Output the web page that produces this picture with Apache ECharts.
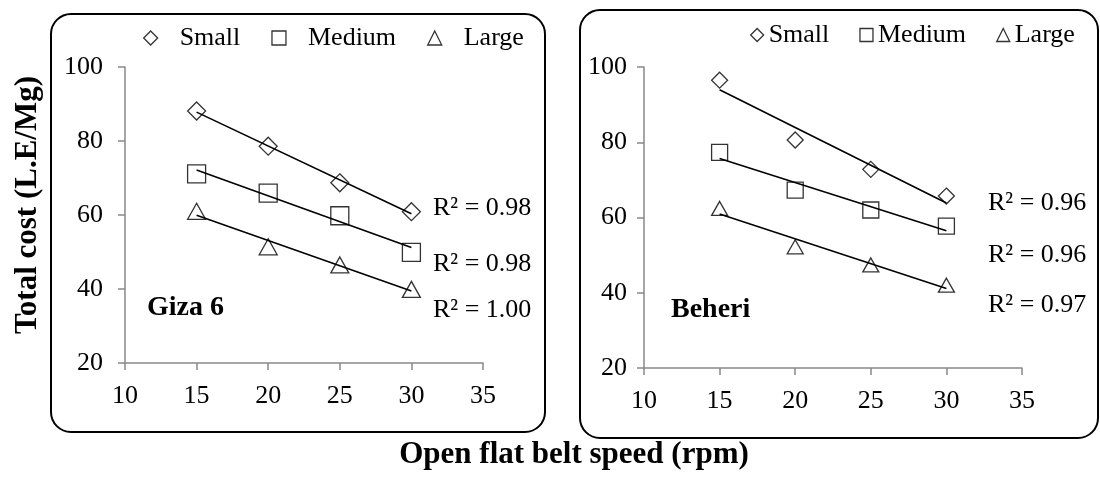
<!DOCTYPE html>
<html>
<head>
<meta charset="utf-8">
<script src="https://cdn.jsdelivr.net/npm/echarts@6/dist/echarts.min.js"></script>
<style>
html,body{margin:0;padding:0;background:#fff;}
#chart{width:1100px;height:481px;}
</style>
</head>
<body>
<div id="chart"></div>
<script>
// ---- data ----
var xValues = [15, 20, 25, 30];
var seriesNames = ['Small', 'Medium', 'Large'];
var gizaSmall = [88.1, 78.6, 68.7, 60.9];
var gizaMedium = [71.1, 65.9, 59.8, 49.9];
var gizaLarge = [61.0, 51.4, 46.5, 39.9];
var beheriSmall = [96.5, 80.6, 72.8, 65.7];
var beheriMedium = [77.3, 67.3, 62.0, 57.7];
var beheriLarge = [62.4, 52.2, 47.4, 42.0];
var gizaR2 = ['R\u00b2 = 0.98', 'R\u00b2 = 0.98', 'R\u00b2 = 1.00'];
var beheriR2 = ['R\u00b2 = 0.96', 'R\u00b2 = 0.96', 'R\u00b2 = 0.97'];
var panelLabels = ['Giza 6', 'Beheri'];
var yTitle = 'Total cost (L.E/Mg)';
var xTitle = 'Open flat belt speed (rpm)';

var FONT = 'Liberation Serif, Times New Roman, serif';
var symbols = ['diamond', 'rect', 'triangle'];

function fit(xs, ys) {
  var n = xs.length, mx = 0, my = 0;
  for (var i = 0; i < n; i++) { mx += xs[i]; my += ys[i]; }
  mx /= n; my /= n;
  var sxy = 0, sxx = 0;
  for (var j = 0; j < n; j++) { sxy += (xs[j] - mx) * (ys[j] - my); sxx += (xs[j] - mx) * (xs[j] - mx); }
  var b = sxy / sxx, a = my - b * mx;
  var x0 = xs[0], x1 = xs[n - 1];
  return [[x0, a + b * x0], [x1, a + b * x1]];
}
function pts(ys) { return xValues.map(function (x, i) { return [x, ys[i]]; }); }

var chart = echarts.init(document.getElementById('chart'), null, {renderer: 'canvas'});

var axisGrey = '#898989';
function xAxis(gi) {
  return {
    type: 'value', gridIndex: gi, min: 10, max: 35, interval: 5,
    axisLine: {onZero: false, lineStyle: {color: axisGrey, width: 1.5}},
    axisTick: {show: true, length: 7, lineStyle: {color: axisGrey, width: 1.5}},
    axisLabel: {color: '#000', fontFamily: FONT, fontSize: 26, margin: 20},
    splitLine: {show: false}
  };
}
function yAxis(gi, m) {
  return {
    type: 'value', gridIndex: gi, min: 20, max: 100, interval: 20,
    axisLine: {show: true, lineStyle: {color: axisGrey, width: 1.5}},
    axisTick: {show: true, length: 7, lineStyle: {color: axisGrey, width: 1.5}},
    axisLabel: {color: '#000', fontFamily: FONT, fontSize: 26, margin: m},
    splitLine: {show: false}
  };
}

var series = [];
var panels = [
  {data: [gizaSmall, gizaMedium, gizaLarge], size: 18},
  {data: [beheriSmall, beheriMedium, beheriLarge], size: 16}
];
panels.forEach(function (p, gi) {
  p.data.forEach(function (ys, k) {
    series.push({
      type: 'scatter', name: seriesNames[k], xAxisIndex: gi, yAxisIndex: gi,
      symbol: symbols[k],
      symbolSize: k === 2 ? [p.size, p.size - 2] : p.size,
      itemStyle: {color: '#fff', borderColor: '#000', borderWidth: 1.3},
      data: pts(ys), z: 2
    });
  });
  p.data.forEach(function (ys, k) {
    series.push({
      type: 'line', name: seriesNames[k] + ' trend', xAxisIndex: gi, yAxisIndex: gi,
      showSymbol: false, symbol: 'none', silent: true,
      lineStyle: {color: '#000', width: 1.6},
      data: fit(xValues, ys), z: 3
    });
  });
});

function rText(x, y, t, size, bold, align) {
  return {type: 'text', x: x, y: y, style: {text: t, fill: '#000', font: (bold ? 'bold ' : '') + size + 'px ' + FONT, textAlign: align || 'left', textVerticalAlign: 'middle'}};
}

var graphics = [
  {type: 'rect', shape: {x: 51, y: 14, width: 494, height: 418, r: 20}, style: {fill: 'none', stroke: '#000', lineWidth: 2}, z: 0},
  {type: 'rect', shape: {x: 580, y: 10, width: 518, height: 428, r: 20}, style: {fill: 'none', stroke: '#000', lineWidth: 2}, z: 0},
  rText(147, 308, panelLabels[0], 28, true),
  rText(671, 310, panelLabels[1], 28, true),
  rText(433, 208, gizaR2[0], 26),
  rText(433, 264, gizaR2[1], 26),
  rText(433, 310, gizaR2[2], 26),
  rText(988, 203, beheriR2[0], 26),
  rText(988, 255, beheriR2[1], 26),
  rText(988, 305, beheriR2[2], 26),
  rText(574, 455, xTitle, 31, true, 'center'),
  {type: 'text', x: 28, y: 205, rotation: Math.PI / 2,
   style: {text: yTitle, fill: '#000', font: 'bold 31px ' + FONT, textAlign: 'center', textVerticalAlign: 'middle'}}
];

var legendData = seriesNames.map(function (n, k) { return {name: n, icon: symbols[k]}; });

chart.setOption({
  animation: false,
  backgroundColor: '#fff',
  grid: [
    {left: 125, top: 67, width: 358, height: 296},
    {left: 644, top: 67, width: 378, height: 301}
  ],
  xAxis: [xAxis(0), xAxis(1)],
  yAxis: [yAxis(0, 22), yAxis(1, 17)],
  legend: [
    {data: legendData, left: 143, top: 25, padding: 0, itemWidth: 14, itemHeight: 14, itemGap: 31,
     itemStyle: {color: '#fff', borderColor: '#000', borderWidth: 1.3},
     textStyle: {fontFamily: FONT, fontSize: 26, color: '#000', lineHeight: 26, padding: [0, 0, 0, 17]}},
    {data: legendData, left: 750, top: 22, padding: 0, itemWidth: 13, itemHeight: 13, itemGap: 30,
     itemStyle: {color: '#fff', borderColor: '#000', borderWidth: 1.3},
     textStyle: {fontFamily: FONT, fontSize: 26, color: '#000', lineHeight: 26}}
  ],
  graphic: graphics,
  series: series
});
</script>
</body>
</html>
